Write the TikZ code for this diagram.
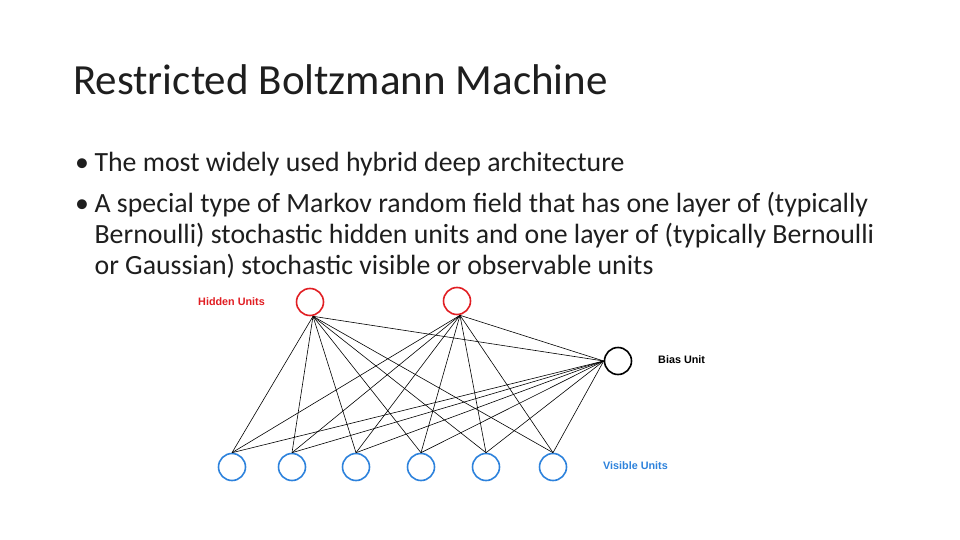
\documentclass[tikz,border=0pt]{standalone}
\usepackage{fontspec}
\setmainfont{Carlito}
\newfontfamily\lblfont{Liberation Sans}
\definecolor{hred}{RGB}{225,30,35}
\definecolor{vblue}{RGB}{45,130,220}
\definecolor{txt}{RGB}{30,30,30}
\begin{document}
\begin{tikzpicture}[x=1pt,y=-1pt,
  unit/.style={circle,draw,line width=1.6pt,minimum size=27pt,inner sep=0pt},
  lbl/.style={font=\lblfont\bfseries\fontsize{10.8}{12}\selectfont,inner sep=0pt},
  edge/.style={draw,line width=0.6pt},
  para/.style={anchor=north west,inner sep=0pt,align=left,text=txt,font=\fontsize{27.8}{31}\selectfont}]
\useasboundingbox[fill=white] (0,0) rectangle (960,540);
\node[anchor=west,inner sep=0pt,text=txt,font=\fontsize{43}{46}\selectfont] (title) at (73,80) {Restricted Boltzmann Machine};
\node[para] (p1) at (75,152) {\textbullet\hspace{0.2em}The most widely used hybrid deep architecture};
\node[para] (p2) at (75,192)
 {\textbullet\hspace{0.2em}A special type of Markov random field that has one layer of (typically\\
  \hphantom{\textbullet}\hspace{0.2em}Bernoulli) stochastic hidden units and one layer of (typically Bernoulli\\
  \hphantom{\textbullet}\hspace{0.2em}or Gaussian) stochastic visible or observable units};
\node[unit,draw=hred] (h1) at (310,302) {};
\node[unit,draw=hred] (h2) at (457,301) {};
\node[unit,draw=black] (b) at (618,361) {};
\foreach \i/\x in {1/232,2/292,3/356,4/421,5/486,6/553}
  \node[unit,draw=vblue] (v\i) at (\x,467) {};
\node[lbl,text=hred,anchor=west] (hl) at (198,302) {Hidden Units};
\node[lbl,anchor=west] (bl) at (658,360) {Bias Unit};
\node[lbl,text=vblue,anchor=west] (vl) at (603,466) {Visible Units};
\foreach \i in {1,...,6}{
  \draw[edge] ([xshift=3pt]h1.south) -- (v\i.north);
  \draw[edge] ([xshift=3pt]h2.south) -- (v\i.north);
  \draw[edge] (b.west) -- (v\i.north);
}
\draw[edge] ([xshift=3pt]h1.south) -- (b.west);
\draw[edge] ([xshift=3pt]h2.south) -- (b.west);
\end{tikzpicture}
\end{document}
